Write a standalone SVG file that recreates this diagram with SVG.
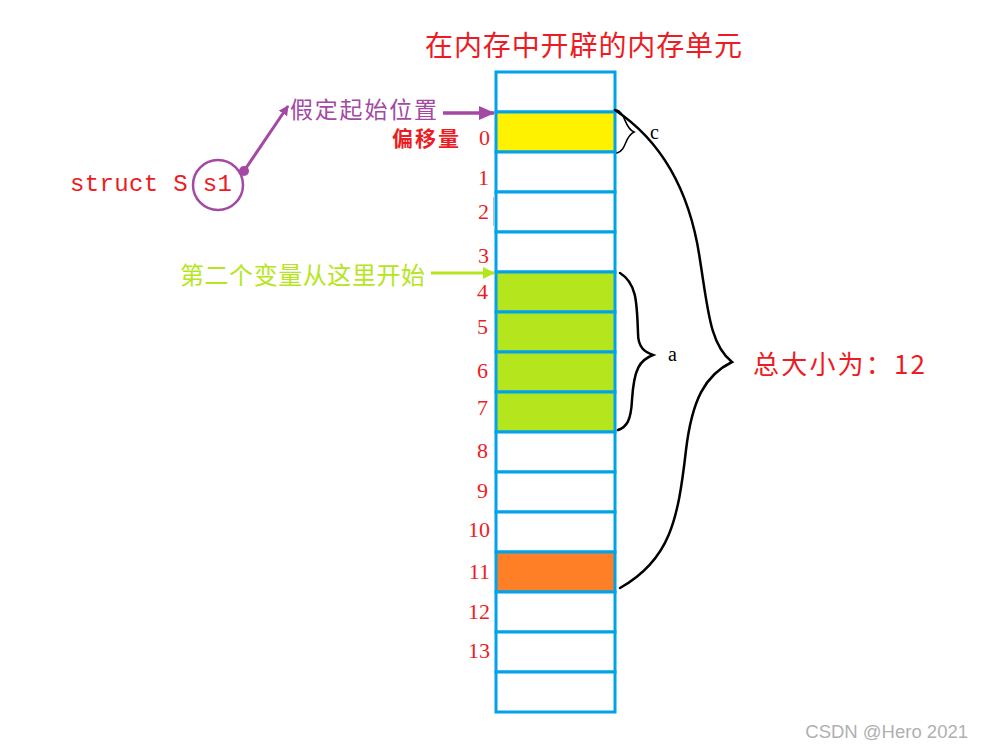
<svg xmlns="http://www.w3.org/2000/svg" width="984" height="746" viewBox="0 0 984 746">
<style>
.cell{fill:#fff;stroke:#00a2e8;stroke-width:3}
.idx{font-family:"Liberation Serif","Noto Sans CJK SC",serif;font-size:22px;fill:#ed1c24;text-anchor:end}
.red{fill:#ed1c24}
.cjk{font-family:"Noto Sans CJK SC","Liberation Serif",serif}
.brace{fill:none;stroke:#000;stroke-width:2.5;stroke-linecap:round}
</style>
<defs>
<marker id="ap" markerWidth="10" markerHeight="10" refX="9" refY="5" orient="auto" markerUnits="userSpaceOnUse" viewBox="0 0 10 10"><path d="M0,0 L10,5 L0,10 z" fill="#a349a4"/></marker>
<marker id="ag" markerWidth="12" markerHeight="12" refX="11" refY="6" orient="auto" markerUnits="userSpaceOnUse" viewBox="0 0 12 12"><path d="M0,0 L12,6 L0,12 z" fill="#b5e61d"/></marker>
<marker id="ap2" markerWidth="16" markerHeight="14" refX="15" refY="7" orient="auto" markerUnits="userSpaceOnUse" viewBox="0 0 16 14"><path d="M0,0 L16,7 L0,14 z" fill="#a349a4"/></marker>
</defs>
<rect width="984" height="746" fill="#fff"/>
<g id="title"><text x="425" y="56" class="cjk red" font-size="28" textLength="317" lengthAdjust="spacing">在内存中开辟的内存单元</text></g>
<g id="memory">
<rect class="cell" x="496" y="72" width="119" height="40"/>
<rect class="cell" x="496" y="112" width="119" height="40" style="fill:#fff200"/>
<rect class="cell" x="496" y="152" width="119" height="40"/>
<rect class="cell" x="496" y="192" width="119" height="40"/>
<rect class="cell" x="496" y="232" width="119" height="40"/>
<rect class="cell" x="496" y="272" width="119" height="40" style="fill:#b5e61d"/>
<rect class="cell" x="496" y="312" width="119" height="40" style="fill:#b5e61d"/>
<rect class="cell" x="496" y="352" width="119" height="40" style="fill:#b5e61d"/>
<rect class="cell" x="496" y="392" width="119" height="40" style="fill:#b5e61d"/>
<rect class="cell" x="496" y="432" width="119" height="40"/>
<rect class="cell" x="496" y="472" width="119" height="40"/>
<rect class="cell" x="496" y="512" width="119" height="40"/>
<rect class="cell" x="496" y="552" width="119" height="40" style="fill:#ff7f27"/>
<rect class="cell" x="496" y="592" width="119" height="40"/>
<rect class="cell" x="496" y="632" width="119" height="40"/>
<rect class="cell" x="496" y="672" width="119" height="40"/>
<line x1="493.5" y1="197" x2="493.5" y2="226" stroke="#bbb" stroke-width="1"/>
</g>
<g id="indices">
<text class="idx" x="490" y="145">0</text>
<text class="idx" x="489" y="185">1</text>
<text class="idx" x="489" y="219">2</text>
<text class="idx" x="489" y="263">3</text>
<text class="idx" x="488" y="299">4</text>
<text class="idx" x="488" y="334">5</text>
<text class="idx" x="488" y="378">6</text>
<text class="idx" x="488" y="415">7</text>
<text class="idx" x="488" y="458">8</text>
<text class="idx" x="488" y="498">9</text>
<text class="idx" x="490" y="537">10</text>
<text class="idx" x="490" y="579">11</text>
<text class="idx" x="490" y="619">12</text>
<text class="idx" x="490" y="658">13</text>
</g>
<g id="offset-label"><text x="392" y="146" class="cjk red" font-size="21" font-weight="bold" textLength="67">偏移量</text></g>
<g id="struct">
<text x="70" y="191" font-family="Liberation Mono,monospace" font-size="24" class="red" textLength="162">struct S s1</text>
<circle cx="218" cy="185" r="25" fill="none" stroke="#a349a4" stroke-width="2.5"/>
<circle cx="244" cy="171" r="5" fill="#a349a4"/>
</g>
<g id="start-label"><text x="290" y="118" class="cjk" font-size="23" fill="#a349a4" textLength="147">假定起始位置</text></g>
<g id="second-label"><text x="180" y="284" class="cjk" font-size="24" fill="#b5e61d" textLength="245">第二个变量从这里开始</text></g>
<g id="connectors">
<line x1="244" y1="171" x2="288" y2="106" stroke="#a349a4" stroke-width="3" marker-end="url(#ap)"/>
<line x1="443" y1="113" x2="494" y2="113" stroke="#a349a4" stroke-width="3.5" marker-end="url(#ap2)"/>
<line x1="431" y1="273" x2="494" y2="273" stroke="#b5e61d" stroke-width="3" marker-end="url(#ag)"/>
</g>
<g id="brace-c">
<path class="brace" style="stroke-width:1.5" d="M617,110 C626,113 624,128 634,132 C624,137 627,150 617,153"/>
<text x="650" y="139" font-family="Liberation Serif,serif" font-size="20" fill="#000">c</text>
</g>
<g id="brace-a">
<path class="brace" d="M620,273 C636,283 637,300 638,333 C638,348 645,352 653,355 C640,360 634,368 632,400 C631,420 627,427 618,430"/>
<text x="668" y="361" font-family="Liberation Serif,serif" font-size="20" fill="#000">a</text>
</g>
<g id="brace-total">
<path class="brace" d="M615,110 C660,140 690,190 700,260 C708,310 710,345 732,362 C705,375 692,400 686,450 C678,520 670,560 620,588"/>
<text x="753" y="374" class="cjk red" font-size="26" textLength="172">总大小为：12</text>
</g>
<g id="watermark"><text x="968" y="738" text-anchor="end" font-family="Liberation Sans,sans-serif" font-size="18.5" fill="#b0b0b0">CSDN @Hero 2021</text></g>
</svg>
